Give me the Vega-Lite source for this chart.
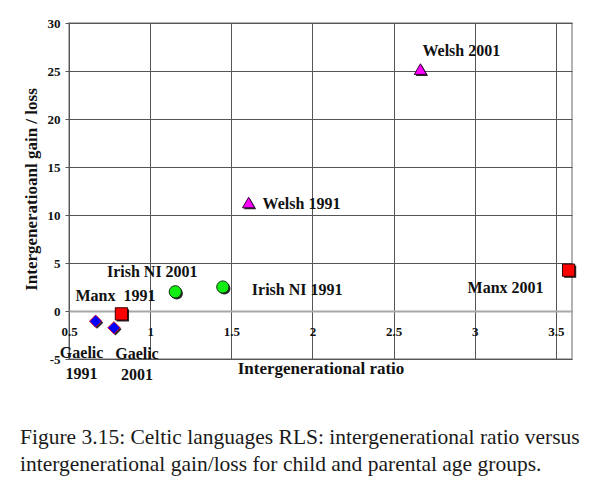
{
  "$schema": "https://vega.github.io/schema/vega-lite/v6.json",
  "width": 503,
  "height": 336,
  "autosize": "none",
  "padding": {"left": 69, "top": 23, "right": 19, "bottom": 125},
  "background": "white",
  "config": {
    "view": {"stroke": "#9a9a9a", "strokeWidth": 1.5},
    "font": "Liberation Serif"
  },
  "title": {
    "text": ["Figure 3.15: Celtic languages RLS: intergenerational ratio versus", "intergenerational gain/loss for child and parental age groups."],
    "orient": "bottom",
    "anchor": "start",
    "frame": "group",
    "dx": -49,
    "offset": 44,
    "font": "Liberation Serif",
    "fontSize": 21.5,
    "fontWeight": "normal",
    "color": "#1a1a1a",
    "lineHeight": 27,
    "baseline": "top"
  },
  "data": {
    "values": [
      {"series": "Welsh", "label": "Welsh 2001", "ratio": 2.666, "gain": 25.2},
      {"series": "Welsh", "label": "Welsh 1991", "ratio": 1.607, "gain": 11.3},
      {"series": "Irish NI", "label": "Irish NI 2001", "ratio": 1.155, "gain": 2.0},
      {"series": "Irish NI", "label": "Irish NI 1991", "ratio": 1.448, "gain": 2.5},
      {"series": "Manx", "label": "Manx \u00a01991", "ratio": 0.823, "gain": -0.3},
      {"series": "Manx", "label": "Manx 2001", "ratio": 3.579, "gain": 4.25},
      {"series": "Gaelic", "label": "Gaelic\n1991", "ratio": 0.664, "gain": -1.06},
      {"series": "Gaelic", "label": "Gaelic\n2001", "ratio": 0.777, "gain": -1.75}
    ]
  },
  "encoding": {
    "x": {
      "field": "ratio", "type": "quantitative",
      "scale": {"domain": [0.5, 3.6], "nice": false, "zero": false},
      "axis": {
        "values": [0.5, 1, 1.5, 2, 2.5, 3, 3.5],
        "format": "~g",
        "title": "Intergenerational ratio",
        "offset": -48,
        "ticks": false,
        "labelPadding": 14,
        "labelFont": "Liberation Serif", "labelFontSize": 13, "labelFontWeight": "bold", "labelColor": "#111",
        "labelFlush": false, "labelOverlap": false, "labelBound": false,
        "domainColor": "#a8a8a8", "domainWidth": 2,
        "gridColor": "#555", "gridWidth": 1, "gridOpacity": 1,
        "titleFont": "Liberation Serif", "titleFontSize": 17, "titleFontWeight": "bold", "titleColor": "#111",
        "titleY": 57, "titleBaseline": "middle"
      }
    },
    "y": {
      "field": "gain", "type": "quantitative",
      "scale": {"domain": [-5, 30], "nice": false, "zero": false},
      "axis": {
        "values": [-5, 0, 5, 10, 15, 20, 25, 30],
        "labelExpr": "'' + datum.value",
        "title": "Intergeneratioanl gain / loss",
        "domain": false,
        "tickSize": 4, "tickColor": "#555",
        "labelPadding": 5,
        "labelFont": "Liberation Serif", "labelFontSize": 13, "labelFontWeight": "bold", "labelColor": "#111",
        "labelFlush": false, "labelOverlap": false, "labelBound": false,
        "gridColor": "#555", "gridWidth": 1, "gridOpacity": 1,
        "titleFont": "Liberation Serif", "titleFontSize": 17, "titleFontWeight": "bold", "titleColor": "#111",
        "titleX": -38, "titleY": 166, "titleBaseline": "middle", "titleAngle": -90, "titleAlign": "center"
      }
    }
  },
  "layer": [
    {
      "mark": {"type": "point", "filled": true, "xOffset": 1.5, "yOffset": 1.5, "opacity": 0.85, "color": "#000", "size": 150},
      "encoding": {
        "shape": {"field": "series", "type": "nominal", "scale": {"domain": ["Welsh", "Irish NI", "Manx", "Gaelic"], "range": ["triangle-up", "circle", "square", "diamond"]}, "legend": null}
      }
    },
    {
      "mark": {"type": "point", "filled": true, "opacity": 1, "size": 150, "strokeWidth": 1},
      "encoding": {
        "shape": {"field": "series", "type": "nominal", "scale": {"domain": ["Welsh", "Irish NI", "Manx", "Gaelic"], "range": ["triangle-up", "circle", "square", "diamond"]}, "legend": null},
        "fill": {"field": "series", "type": "nominal", "scale": {"domain": ["Welsh", "Irish NI", "Manx", "Gaelic"], "range": ["#ff00ff", "#11ee11", "#ff0000", "#0000ff"]}, "legend": null},
        "stroke": {"field": "series", "type": "nominal", "scale": {"domain": ["Welsh", "Irish NI", "Manx", "Gaelic"], "range": ["#330033", "#113311", "#330000", "#cc0033"]}, "legend": null}
      }
    },
    {
      "transform": [{"filter": "datum.label == 'Welsh 2001'"}],
      "mark": {"type": "text", "align": "left", "baseline": "middle", "dx": 2, "dy": -18, "fontSize": 16, "fontWeight": "bold", "font": "Liberation Serif", "color": "#111"},
      "encoding": {"text": {"field": "label"}}
    },
    {
      "transform": [{"filter": "datum.label == 'Welsh 1991'"}],
      "mark": {"type": "text", "align": "left", "baseline": "middle", "dx": 14, "dy": 1, "fontSize": 16, "fontWeight": "bold", "font": "Liberation Serif", "color": "#111"},
      "encoding": {"text": {"field": "label"}}
    },
    {
      "transform": [{"filter": "datum.label == 'Irish NI 2001'"}],
      "mark": {"type": "text", "align": "center", "baseline": "middle", "dx": -23, "dy": -20, "fontSize": 16, "fontWeight": "bold", "font": "Liberation Serif", "color": "#111"},
      "encoding": {"text": {"field": "label"}}
    },
    {
      "transform": [{"filter": "datum.label == 'Irish NI 1991'"}],
      "mark": {"type": "text", "align": "left", "baseline": "middle", "dx": 29, "dy": 3, "fontSize": 16, "fontWeight": "bold", "font": "Liberation Serif", "color": "#111"},
      "encoding": {"text": {"field": "label"}}
    },
    {
      "transform": [{"filter": "datum.series == 'Manx' && datum.ratio < 1"}],
      "mark": {"type": "text", "align": "center", "baseline": "middle", "dx": -6, "dy": -18, "fontSize": 16, "fontWeight": "bold", "font": "Liberation Serif", "color": "#111"},
      "encoding": {"text": {"field": "label"}}
    },
    {
      "transform": [{"filter": "datum.label == 'Manx 2001'"}],
      "mark": {"type": "text", "align": "right", "baseline": "middle", "dx": -25, "dy": 18, "fontSize": 16, "fontWeight": "bold", "font": "Liberation Serif", "color": "#111"},
      "encoding": {"text": {"field": "label"}}
    },
    {
      "transform": [{"filter": "datum.label == 'Gaelic\\n1991'"}],
      "mark": {"type": "text", "align": "center", "baseline": "middle", "lineBreak": "\n", "lineHeight": 21, "dx": -14, "dy": 32, "fontSize": 16, "fontWeight": "bold", "font": "Liberation Serif", "color": "#111"},
      "encoding": {"text": {"field": "label"}}
    },
    {
      "transform": [{"filter": "datum.label == 'Gaelic\\n2001'"}],
      "mark": {"type": "text", "align": "center", "baseline": "middle", "lineBreak": "\n", "lineHeight": 21, "dx": 23, "dy": 26, "fontSize": 16, "fontWeight": "bold", "font": "Liberation Serif", "color": "#111"},
      "encoding": {"text": {"field": "label"}}
    }
  ]
}
